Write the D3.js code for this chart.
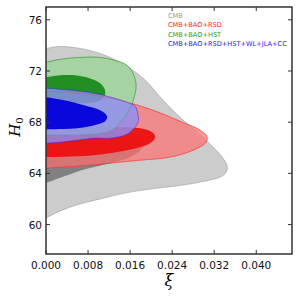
<!DOCTYPE html>
<html>
<head>
  <meta charset="UTF-8" />
  <title>H0 vs xi</title>
  <script src="https://d3js.org/d3.v7.min.js"></script>
  <style>
    body { margin: 0; background: #fff; }
    .tick-label { font-family: "DejaVu Sans", sans-serif; font-size: 10.5px; fill: #111; }
    .legend { font-family: "DejaVu Sans", sans-serif; font-size: 6.6px; }
  </style>
</head>
<body>
  <div id="chart"></div>

  <script>
    // contour points, [xi, H0]
    const cmbOuter = [[0, 73.76], [0.00267, 73.92], [0.00648, 73.76], [0.01029, 73.37], [0.0141, 72.67],
      [0.01848, 71.44], [0.02229, 69.71], [0.0261, 68.15], [0.0299, 66.83], [0.03219, 65.89],
      [0.03352, 65.27], [0.03448, 64.57], [0.03429, 64.10], [0.03314, 63.71], [0.02933, 63.32],
      [0.0261, 63.09], [0.0198, 62.77], [0.01505, 62.46], [0.01029, 62.0], [0.00648, 61.61],
      [0.00267, 61.06], [0, 60.51]];
    const cmbInner = [[0, 67.37], [0.00648, 67.29], [0.01219, 67.14], [0.01695, 66.75], [0.01829, 66.05],
      [0.016, 65.27], [0.01219, 64.80], [0.00743, 64.33], [0.00362, 63.79], [0, 63.24]];
    const redOuter = [[0, 70.41], [0.00648, 70.26], [0.0141, 69.71], [0.02038, 68.93], [0.02552, 68.07],
      [0.02933, 67.37], [0.03067, 66.83], [0.03029, 66.36], [0.028, 65.81], [0.02362, 65.27],
      [0.0179, 65.03], [0.0141, 64.88], [0.00838, 64.64], [0, 64.41]];
    const redInner = [[0, 67.53], [0.00838, 67.61], [0.0141, 67.61], [0.0179, 67.53], [0.0202, 67.22],
      [0.02076, 66.83], [0.0198, 66.36], [0.0179, 66.05], [0.01543, 65.81], [0.00914, 65.42], [0, 65.27]];
    const greenOuter = [[0, 72.67], [0.00267, 72.91], [0.00648, 73.06], [0.01029, 73.06], [0.01314, 72.83],
      [0.01543, 72.44], [0.01657, 71.81], [0.01714, 70.88], [0.01676, 69.94], [0.0158, 68.93],
      [0.0141, 67.92], [0.01219, 67.29], [0.00933, 67.06], [0.00457, 66.98], [0, 66.98]];
    const greenInner = [[0, 71.50], [0.00267, 71.66], [0.00552, 71.66], [0.00838, 71.42], [0.01029, 71.04],
      [0.01124, 70.49], [0.0110, 69.94], [0.00933, 69.55], [0, 69.55]];
    const blueOuter = [[0, 70.65], [0.00914, 70.26], [0.01543, 69.55], [0.01695, 69.24], [0.01752, 68.54],
      [0.01752, 68.00], [0.01676, 67.53], [0.01543, 67.06], [0.01238, 66.75], [0.00914, 66.75],
      [0.0059, 66.59], [0.00286, 66.44], [0, 66.36]];
    const blueInner = [[0, 69.94], [0.00343, 69.71], [0.00724, 69.32], [0.01029, 68.93], [0.01162, 68.46],
      [0.01124, 68.07], [0.00914, 67.76], [0.0059, 67.53], [0, 67.45]];

    const xTicks = [0, 0.008, 0.016, 0.024, 0.032, 0.040];
    const yTicks = [60, 64, 68, 72, 76];
    const legendLabels = ["CMB", "CMB+BAO+RSD", "CMB+BAO+HST", "CMB+BAO+RSD+HST+WL+JLA+CC"];
    const legendColors = ["#999999", "#ff2020", "#1f9a1f", "#2020ff"];

    const W = 300, H = 300;
    const mLeft = 46, mRight = 292, mTop = 7, mBottom = 254;

    const svg = d3.select("#chart").append("svg")
      .attr("width", W)
      .attr("height", H);

    const x = d3.scaleLinear().domain([0, 0.0468]).range([mLeft, mRight]);
    const y = d3.scaleLinear().domain([57.7, 77]).range([mBottom, mTop]);

    svg.append("clipPath").attr("id", "plot")
      .append("rect").attr("x", mLeft).attr("y", mTop)
      .attr("width", mRight - mLeft).attr("height", mBottom - mTop);

    const line = d3.line().x(d => x(d[0])).y(d => y(d[1])).curve(d3.curveCatmullRom.alpha(0.5));
    const g = svg.append("g").attr("clip-path", "url(#plot)");

    function contour(pts, fill, op, stroke) {
      g.append("path")
        .attr("d", line(pts) + "Z")
        .attr("fill", fill)
        .attr("fill-opacity", op)
        .attr("stroke", stroke || "none")
        .attr("stroke-width", 0.7)
        .attr("stroke-opacity", 0.7);
    }

    contour(cmbOuter, "#cccccc", 1, "#8c8c8c");
    contour(cmbInner, "#808080", 1);
    contour(redOuter, "#ff6f6f", 0.7, "#ff3030");
    contour(redInner, "#ec1010", 0.95);
    contour(greenOuter, "#9fd49a", 0.85, "#3a9a3a");
    contour(greenInner, "#1b8a1b", 0.95);
    contour(blueOuter, "#8f8ff2", 0.82, "#2020ff");
    contour(blueInner, "#0000dc", 0.95);

    // faint outlines showing through the blue fill
    [[redOuter, "#ff3030"], [greenOuter, "#3a9a3a"]].forEach(([pts, c]) => {
      g.append("path")
        .attr("d", line(pts))
        .attr("fill", "none")
        .attr("stroke", c)
        .attr("stroke-width", 0.7)
        .attr("stroke-opacity", 0.45);
    });

    // frame
    svg.append("rect")
      .attr("x", mLeft).attr("y", mTop)
      .attr("width", mRight - mLeft).attr("height", mBottom - mTop)
      .attr("fill", "none").attr("stroke", "#333").attr("stroke-width", 1.5);

    // ticks pointing inward, all four sides
    const tk = svg.append("g").attr("stroke", "#333").attr("stroke-width", 1);
    xTicks.forEach(t => {
      tk.append("line").attr("x1", x(t)).attr("x2", x(t)).attr("y1", mBottom).attr("y2", mBottom - 4);
      tk.append("line").attr("x1", x(t)).attr("x2", x(t)).attr("y1", mTop).attr("y2", mTop + 4);
    });
    yTicks.forEach(t => {
      tk.append("line").attr("y1", y(t)).attr("y2", y(t)).attr("x1", mLeft).attr("x2", mLeft + 4);
      tk.append("line").attr("y1", y(t)).attr("y2", y(t)).attr("x1", mRight).attr("x2", mRight - 4);
    });

    svg.selectAll(".xl").data(xTicks).enter().append("text")
      .attr("class", "tick-label")
      .attr("x", d => x(d)).attr("y", mBottom + 15)
      .attr("text-anchor", "middle")
      .text(d => d3.format(".3f")(d));

    svg.selectAll(".yl").data(yTicks).enter().append("text")
      .attr("class", "tick-label")
      .attr("x", mLeft - 4).attr("y", d => y(d) + 4)
      .attr("text-anchor", "end")
      .text(d => d);

    // axis labels
    svg.append("text")
      .attr("x", x(0.0234)).attr("y", 286)
      .attr("text-anchor", "middle")
      .style("font-family", "'DejaVu Serif', serif").style("font-style", "italic").style("font-size", "16px")
      .text("ξ");

    const yl = svg.append("text")
      .attr("transform", "translate(20,127) rotate(-90)")
      .attr("text-anchor", "middle")
      .style("font-family", "'DejaVu Serif', serif").style("font-size", "15px");
    yl.append("tspan").style("font-style", "italic").text("H");
    yl.append("tspan").attr("dy", 3).style("font-size", "10px").text("0");

    // legend
    svg.selectAll(".lg").data(legendLabels).enter().append("text")
      .attr("class", "legend")
      .attr("x", 168)
      .attr("y", (d, i) => 18 + i * 9.4)
      .attr("fill", (d, i) => legendColors[i])
      .text(d => d);
  </script>
</body>
</html>
